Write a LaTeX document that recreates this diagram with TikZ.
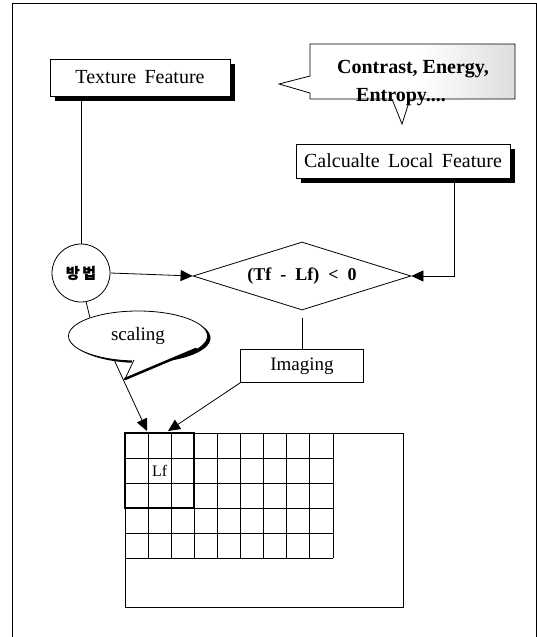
\documentclass[tikz,border=0pt]{standalone}
\usepackage{fontspec}
\setmainfont{Liberation Serif}
\newfontfamily\krfont[FakeBold=1]{Noto Sans CJK KR}
\usetikzlibrary{arrows.meta,shapes.geometric,shadows}
\pgfdeclarehorizontalshading{calloutgray}{100bp}{color(0bp)=(white); color(55bp)=(white); color(100bp)=(gray!60)}
\tikzset{
  box/.style = {draw, fill=white, line width=0.8pt, inner sep=0pt,
    font=\fontsize{20}{24}\selectfont,
    execute at begin node={\spaceskip=0.42em\relax}},
  shadowbox/.style = {box,
    drop shadow={shadow xshift=5pt, shadow yshift=-5pt, opacity=1, fill=black}},
  link/.style = {line width=0.8pt},
  arrow/.style = {link, -{Triangle[length=12pt,width=11pt]}},
}

\begin{document}
\begin{tikzpicture}[x=1pt,y=-1pt]
  \pgfmathsetmacro{\cellw}{23.1};
  \pgfmathsetmacro{\cellh}{25};
  \useasboundingbox (0,0) rectangle (537,637);
  % frame
  \draw[link] (12,637) -- (12,3) -- (536,3) -- (536,637);
  % feature boxes
  \node[shadowbox, minimum width=180pt, minimum height=37pt] (texture) at (140,77.5) {Texture Feature};
  \node[shadowbox, minimum width=214pt, minimum height=34pt] (calc) at (403,161) {Calcualte Local Feature};
  % callout
  \shade[shading=calloutgray] (310,44) -- (515,44) -- (515,99) -- (410,99) -- (402,124) -- (392,99) -- (310,99) -- (310,93) -- (279,84) -- (310,76) -- cycle;
  \draw[link] (310,44) -- (515,44) -- (515,99) -- (410,99) -- (402,124) -- (392,99) -- (310,99) -- (310,93) -- (279,84) -- (310,76) -- cycle;
  \node[font=\bfseries\fontsize{20}{28}\selectfont, align=left] (measures) at (413,83) {Contrast, Energy,\\\hspace*{19pt}Entropy....};
  % decision
  \node[draw, diamond, aspect=3.2, link, minimum width=218pt, minimum height=68pt, inner sep=0pt,
    font=\bfseries\fontsize{18}{20}\selectfont,
    execute at begin node={\spaceskip=0.5em\relax}] (cond) at (302,276) {(Tf - Lf) < 0};
  \node[draw, circle, link, minimum size=58pt, inner sep=0pt,
    font=\krfont\bfseries\fontsize{15}{17}\selectfont] (how) at (81,273) {방\,법};
  \node[box, minimum width=123pt, minimum height=33pt, font=\fontsize{19}{22}\selectfont] (img) at (302,366) {Imaging};
  % scaling callout
  \node[draw, ellipse, link, fill=white, minimum width=139pt, minimum height=50pt, inner sep=0pt,
    drop shadow={shadow xshift=3pt, shadow yshift=-2pt, opacity=1, fill=black},
    font=\fontsize{19}{22}\selectfont] (scal) at (138,336) {scaling};
  \fill[white] (133,359) -- (125,379) -- (196,349) -- cycle;
  \draw[link] (134,360) -- (125,379);
  \draw[line width=2.5pt, line cap=round] (125,379) -- (196,349);
  % grid
  \foreach \i in {0,...,9} {%
    \draw[link] (125+\i*\cellw,433) -- ++(0,5*\cellh);
  }
  \foreach \j in {0,...,5} {%
    \draw[link] (125,433+\j*\cellh) -- ++(9*\cellw,0);
  }
  \draw[link] (125,433) rectangle (403,607);
  \draw[line width=2pt] (125,433) rectangle ++(3*\cellw,3*\cellh);
  \node[font=\fontsize{16}{18}\selectfont] (lf) at (125+1.5*\cellw,433+1.5*\cellh) {Lf};
  % connectors
  \coordinate (scaletip) at (147,431);
  \coordinate (imagetip) at (168,431);
  \draw[link] (texture.south -| how) -- (how.north);
  \draw[arrow] ([xshift=51pt]calc.south) |- (cond.east);
  \draw[arrow] (how.east) -- (cond.west);
  \draw[link] ([yshift=-8pt]cond.south) -- (img.north);
  \draw[link] (how.-80) -- (scal.159);
  \draw[arrow] (scal.225) -- (scaletip);
  \draw[arrow] (img.south west) -- (imagetip);
\end{tikzpicture}
\end{document}
